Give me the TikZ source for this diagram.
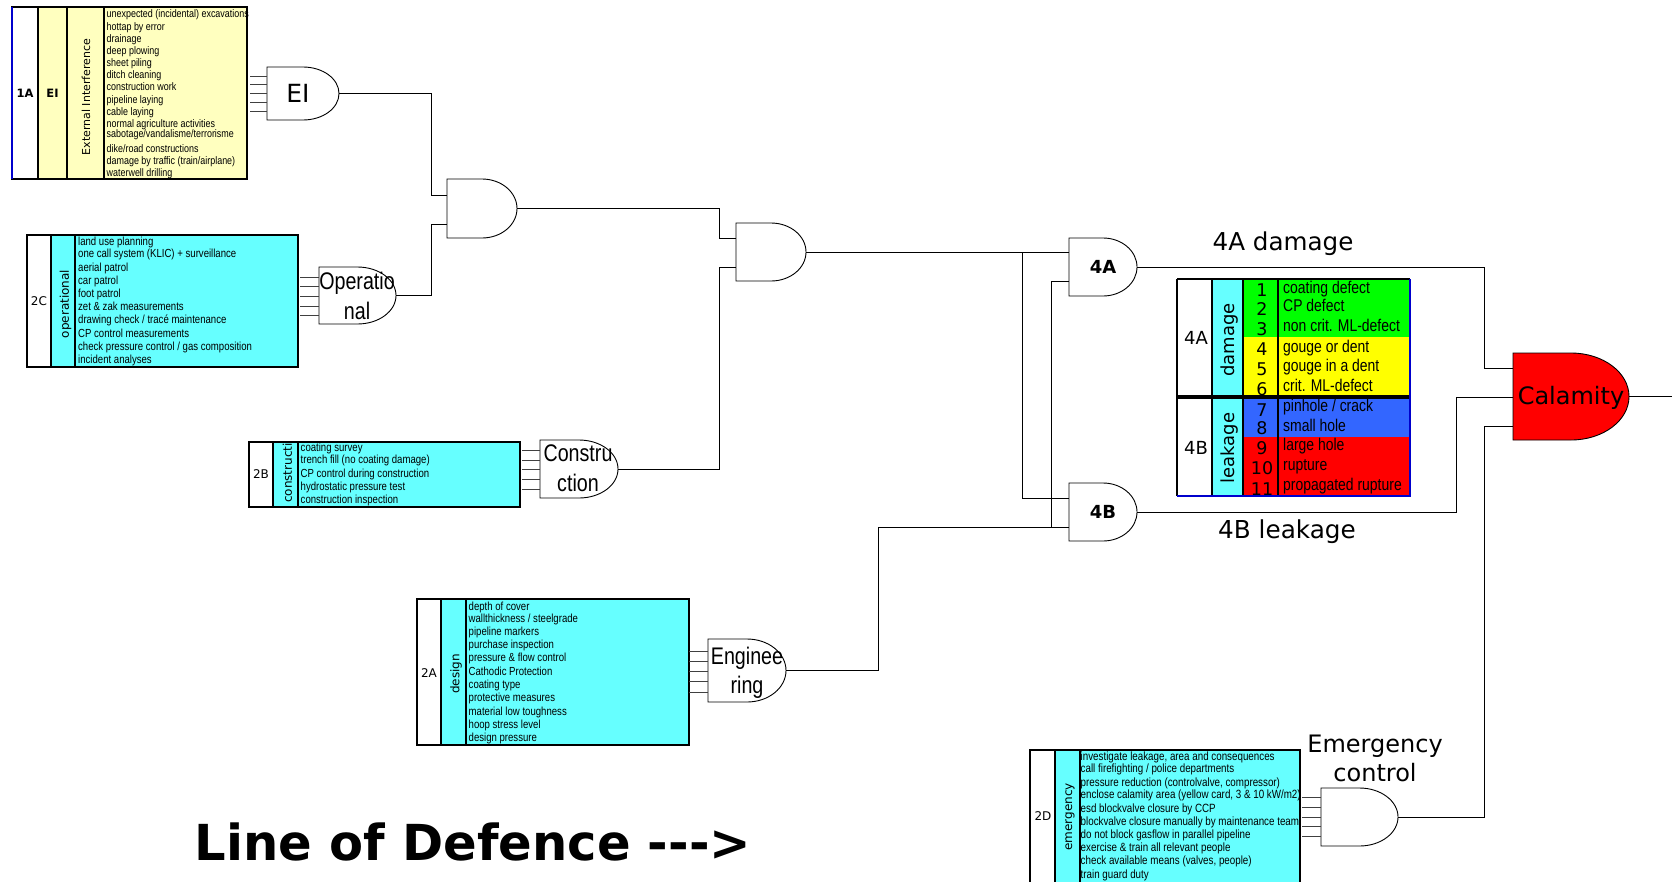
\documentclass[tikz,border=0pt]{standalone}
\usepackage{fontspec}
\usetikzlibrary{calc}
\newfontfamily\djv{DejaVu Sans}
\newfontfamily\narrowf[FakeStretch=0.82]{Liberation Sans}
\definecolor{cream}{HTML}{FFFFBF}
\definecolor{aqua}{HTML}{66FFFF}
\definecolor{lgreen}{HTML}{00FF00}
\definecolor{lyellow}{HTML}{FFFF00}
\definecolor{lblue}{HTML}{3366FF}
\definecolor{lred}{HTML}{FF0000}
\definecolor{edgeblue}{HTML}{0000CC}
\makeatletter
\pgfdeclareshape{andgate}{
  \inheritsavedanchors[from=rectangle]
  \inheritanchorborder[from=rectangle]
  \inheritanchor[from=rectangle]{center}
  \inheritanchor[from=rectangle]{north}
  \inheritanchor[from=rectangle]{south}
  \inheritanchor[from=rectangle]{west}
  \inheritanchor[from=rectangle]{east}
  \backgroundpath{
    \southwest \pgf@xa=\pgf@x \pgf@ya=\pgf@y
    \northeast \pgf@xb=\pgf@x \pgf@yb=\pgf@y
    \pgf@xc=\pgf@xb \advance\pgf@xc by -\pgf@xa \divide\pgf@xc by 2
    \pgf@yc=\pgf@yb \advance\pgf@yc by -\pgf@ya \divide\pgf@yc by 2
    \edef\gaterx{\the\pgf@xc}\edef\gatery{\the\pgf@yc}
    \advance\pgf@xc by \pgf@xa
    \edef\gatexm{\the\pgf@xc}
    \pgfpathmoveto{\pgfqpoint{\pgf@xa}{\pgf@ya}}
    \pgfpathlineto{\pgfqpoint{\pgf@xa}{\pgf@yb}}
    \pgfpathlineto{\pgfqpoint{\gatexm}{\pgf@yb}}
    \pgfpatharc{90}{-90}{\gaterx\space and \gatery}
    \pgfpathclose
  }
}
\makeatother
\def\rowsize{11.7}
\tikzset{
  gatebox/.style={shape=andgate,draw=black,fill=white,line width=0.9pt,inner sep=0pt,outer sep=0pt},
  cellbox/.style={shape=rectangle,draw=black,line width=2.2pt,inner sep=0pt,outer sep=0pt},
  wire/.style={draw=black,line width=0.9pt},
  stub/.style={draw=black!75,line width=1pt},
  rowtext/.style={anchor=west,inner sep=0pt,text height=8pt,text depth=2.5pt,font=\narrowf\fontsize{\rowsize}{13}\selectfont},
  legtext/.style={anchor=west,inner sep=0pt,text height=12pt,text depth=3.5pt,font=\narrowf\fontsize{17}{19}\selectfont},
  legnum/.style={inner sep=0pt,font=\djv\fontsize{17.5}{19}\selectfont},
  codetext/.style={inner sep=0pt,font=\djv\fontsize{12}{14}\selectfont},
  codebold/.style={inner sep=0pt,font=\djv\bfseries\fontsize{11.5}{14}\selectfont},
  vertext/.style={inner sep=0pt,rotate=90,font=\djv\fontsize{12}{14}\selectfont},
  gatename/.style={inner sep=0pt,align=center,font=\narrowf\fontsize{24}{29.5}\selectfont},
  bigtext/.style={inner sep=0pt,align=center,font=\djv\fontsize{24}{29}\selectfont},
}
\newcommand\mkcell[6]{%
  \pgfmathsetmacro\cx{(#2+#4)/2}\pgfmathsetmacro\cy{(#3+#5)/2}%
  \pgfmathsetmacro\cw{#4-#2}\pgfmathsetmacro\ch{#5-#3}%
  \node[cellbox,fill=#6,minimum width=\cw pt,minimum height=\ch pt] (#1) at (\cx,\cy) {};}
\newcommand\mkgate[6]{%
  \pgfmathsetmacro\cx{(#2+#4)/2}\pgfmathsetmacro\cy{(#3+#5)/2}%
  \pgfmathsetmacro\cw{#4-#2}\pgfmathsetmacro\ch{#5-#3}%
  \node[gatebox,fill=#6,minimum width=\cw pt,minimum height=\ch pt] (#1) at (\cx,\cy) {};}
\newcommand\mkrows[3]{%
  \foreach \yy/\rowt in {#3} {\node[rowtext] (#1-\yy) at (#2,\yy+1.8) {\rowt};}}
\newcommand\mkstubs[4]{%
  \foreach \yy in {#4} {\draw[stub] (#2,\yy) -- (#1.west |- 0,\yy);}}
\begin{document}
\begin{tikzpicture}[x=1pt,y=-1pt]
\useasboundingbox (0,0) rectangle (1672,881);
\clip (0,0) rectangle (1672,881);
% ---------- 1A
\mkcell{a1}{12}{7}{38}{179}{white}
\mkcell{a2}{38}{7}{67}{179}{cream}
\mkcell{a3}{67}{7}{104}{179}{cream}
\mkcell{a4}{104}{7}{247}{179}{cream}
\draw[edgeblue,line width=1.2pt] (a1.north west) -- (a1.south west);
\node[codebold] (a1t) at (a1.center) {1A};
\node[codebold] (a2t) at (a2.center) {EI};
\node[vertext,font=\djv\fontsize{11}{13}\selectfont] (a3t) at (86,97) {External Interference};
\def\rowsize{10.9}
\mkrows{a4}{106.5}{13/{unexpected (incidental) excavations},26/{hottap by error},38/{drainage},50/{deep plowing},62/{sheet piling},74/{ditch cleaning},86/{construction work},99/{pipeline laying},111/{cable laying},123/{normal agriculture activities},133/{sabotage/vandalisme/terrorisme},148/{dike/road constructions},160/{damage by traffic (train/airplane)},172/{waterwell drilling}}
\def\rowsize{11.7}
% ---------- 2C
\mkcell{c1}{27}{235}{51}{367}{white}
\mkcell{c2}{51}{235}{75}{367}{aqua}
\mkcell{c3}{75}{235}{298}{367}{aqua}
\node[codetext] (c1t) at (39,301) {2C};
\node[vertext] (c2t) at (65.5,304) {operational};
\mkrows{c3}{78}{241/{land use planning},253/{one call system (KLIC) + surveillance},267/{aerial patrol},280/{car patrol},293/{foot patrol},306/{zet \& zak measurements},319/{drawing check / tracé maintenance},333/{CP control measurements},346/{check pressure control / gas composition},359/{incident analyses}}
% ---------- 2B
\mkcell{b1}{249}{442}{273}{507}{white}
\mkcell{b2}{273}{442}{298}{507}{aqua}
\mkcell{b3}{298}{442}{520}{507}{aqua}
\node[codetext] (b1t) at (b1.center) {2B};
\begin{scope}
\clip (273,443) rectangle (298,507);
\node[vertext,anchor=west] (b2t) at (287.5,503) {construction};
\end{scope}
\mkrows{b3}{300.5}{447/{coating survey},459/{trench fill (no coating damage)},473/{CP control during construction},486/{hydrostatic pressure test},499/{construction inspection}}
% ---------- 2A
\mkcell{d1}{417}{599}{441}{745}{white}
\mkcell{d2}{441}{599}{466}{745}{aqua}
\mkcell{d3}{466}{599}{689}{745}{aqua}
\node[codetext] (d1t) at (429,673) {2A};
\node[vertext] (d2t) at (456,674) {design};
\mkrows{d3}{468.5}{606/{depth of cover},618/{wallthickness / steelgrade},631/{pipeline markers},644/{purchase inspection},657/{pressure \& flow control},671/{Cathodic Protection},684/{coating type},697/{protective measures},711/{material low toughness},724/{hoop stress level},737/{design pressure}}
% ---------- 2D
\mkcell{e1}{1030}{750}{1055}{900}{white}
\mkcell{e2}{1055}{750}{1080}{900}{aqua}
\mkcell{e3}{1080}{750}{1300}{900}{aqua}
\node[codetext] (e1t) at (1043,816) {2D};
\node[vertext] (e2t) at (1070,817) {emergency};
\def\rowsize{11.95}
\mkrows{e3}{1080.5}{756/{investigate leakage, area and consequences},768/{call firefighting / police departments},782/{pressure reduction (controlvalve, compressor)},794/{enclose calamity area (yellow card, 3 \& 10 kW/m2)},808/{esd blockvalve closure by CCP},821/{blockvalve closure manually by maintenance team},834/{do not block gasflow in parallel pipeline},847/{exercise \& train all relevant people},860/{check available means (valves, people)},874/{train guard duty}}
% ---------- legend
\path[fill=lgreen] (1243,279) rectangle (1410,337);
\path[fill=lyellow] (1243,337) rectangle (1410,397);
\path[fill=lblue] (1243,397) rectangle (1410,437);
\path[fill=lred] (1243,437) rectangle (1410,496);
\begin{scope}
\clip (1243,279) rectangle (1410,495);
\foreach \yy/\nn in {290/1,309/2,329/3,349/4,369/5,389/6,410/7,428/8,448/9,468/10,489/11}
  {\node[legnum] (n\nn) at (1262,\yy) {\nn};}
\end{scope}
\foreach \yy/\rowt in {288/{coating defect},306/{CP defect},326/{non crit. ML-defect},347/{gouge or dent},366/{gouge in a dent},386/{crit. ML-defect},406/{pinhole / crack},426/{small hole},445/{large hole},465/{rupture},485/{propagated rupture}}
  {\node[legtext] (lt\yy) at (1283,\yy+1.5) {\rowt};}
\path[fill=aqua] (1212,279) rectangle (1243,496);
\draw[black,line width=2.4pt] (1177,279) -- (1410,279);
\draw[black,line width=2.4pt] (1177,279) -- (1177,496);
\draw[black,line width=2.4pt] (1212,279) -- (1212,496);
\draw[black,line width=2.4pt] (1243,279) -- (1243,496);
\draw[black,line width=2.4pt] (1278,279) -- (1278,496);
\draw[black,line width=4pt] (1177,397) -- (1410,397);
\draw[edgeblue,line width=1.4pt] (1177,496) -- (1410,496) -- (1410,279);
\node[inner sep=0pt,font=\djv\fontsize{18}{20}\selectfont] (l4a) at (1196,338) {4A};
\node[inner sep=0pt,font=\djv\fontsize{18}{20}\selectfont] (l4b) at (1196,448) {4B};
\node[inner sep=0pt,rotate=90,font=\djv\fontsize{18}{20}\selectfont] (ldmg) at (1230,340) {damage};
\node[inner sep=0pt,rotate=90,font=\djv\fontsize{18}{20}\selectfont] (llk) at (1230,448) {leakage};
% ---------- gates
\mkgate{gei}{267}{67}{339}{120}{white}
\mkgate{gop}{319}{267}{396}{324}{white}
\mkgate{gco}{540}{440}{618}{498}{white}
\mkgate{gen}{708}{639}{786}{702}{white}
\mkgate{gem}{1321}{788}{1398}{846}{white}
\mkgate{g1}{447}{179}{517}{238}{white}
\mkgate{g2}{736}{223}{806}{281}{white}
\mkgate{g4a}{1069}{238}{1137}{296}{white}
\mkgate{g4b}{1069}{483}{1137}{541}{white}
\mkgate{gcal}{1513}{353}{1629}{440}{lred}
\node[inner sep=0pt,font=\djv\fontsize{25}{29}\selectfont] (geit) at (298,93) {EI};
\node[gatename] (gopt) at (357,296) {Operatio\\nal};
\node[gatename] (gcot) at (578,468) {Constru\\ction};
\node[gatename] (gent) at (747,673) {Enginee\\ring};
\node[inner sep=0pt,font=\djv\bfseries\fontsize{18}{20}\selectfont] (g4at) at (g4a.center) {4A};
\node[inner sep=0pt,font=\djv\bfseries\fontsize{18}{20}\selectfont] (g4bt) at (g4b.center) {4B};
\node[bigtext] (gcalt) at (1571,397.5) {Calamity};
% ---------- input stubs
\mkstubs{gei}{250}{}{76,84,93,102,111}
\mkstubs{gop}{300}{}{277,286,296,306,315}
\mkstubs{gco}{522}{}{450,460,469,479,489}
\mkstubs{gen}{689}{}{651,661,671,681,692}
\mkstubs{gem}{1302}{}{797,807,817,826,836}
% ---------- connectors
\coordinate (k1) at (431,195); \coordinate (i1a) at (447,195);
\coordinate (k2) at (431,224); \coordinate (i1b) at (447,224);
\coordinate (k3) at (719,238); \coordinate (i2a) at (736,238);
\coordinate (k4) at (719,267); \coordinate (i2b) at (736,267);
\coordinate (ia1) at (1069,253); \coordinate (ia2) at (1069,281);
\coordinate (ib1) at (1069,498); \coordinate (ib2) at (1069,527);
\coordinate (v1a) at (1022,252); \coordinate (v1b) at (1022,498);
\coordinate (v2a) at (1051,281); \coordinate (v2b) at (1051,527);
\coordinate (k5) at (878,527);
\coordinate (k6) at (1484,368); \coordinate (ic1) at (1513,368);
\coordinate (k7) at (1456,397); \coordinate (ic2) at (1513,397);
\coordinate (k8) at (1484,426); \coordinate (ic3) at (1513,426);
\coordinate (outc) at (1672,396.5);
\draw[wire] (gei.east) -| (k1) -- (i1a);
\draw[wire] (gop.east) -| (k2) -- (i1b);
\draw[wire] (g1.east) -| (k3) -- (i2a);
\draw[wire] (gco.east) -| (k4) -- (i2b);
\draw[wire] (g2.east) -- (g2.east -| ia1);
\draw[wire] (v1a) -- (v1b) -- (ib1);
\draw[wire] (ia2) -- (v2a) -- (v2b);
\draw[wire] (gen.east) -| (k5) -- (ib2);
\draw[wire] (g4a.east) -| (k6) -- (ic1);
\draw[wire] (g4b.east) -| (k7) -- (ic2);
\draw[wire] (gem.east) -| (k8) -- (ic3);
\draw[wire] (gcal.east) -- (outc);
% ---------- free labels
\node[bigtext,font=\djv\fontsize{24.6}{29}\selectfont] (ldam) at (1283,244) {4A damage};
\node[bigtext,font=\djv\fontsize{24.7}{29}\selectfont] (lleak) at (1287,532) {4B leakage};
\node[bigtext] (lemg) at (1375,758) {Emergency\\control};
\node[inner sep=0pt,font=\djv\bfseries\fontsize{49.6}{54}\selectfont] (llod) at (473,842) {Line of Defence -{}-{}->};
\end{tikzpicture}
\end{document}
